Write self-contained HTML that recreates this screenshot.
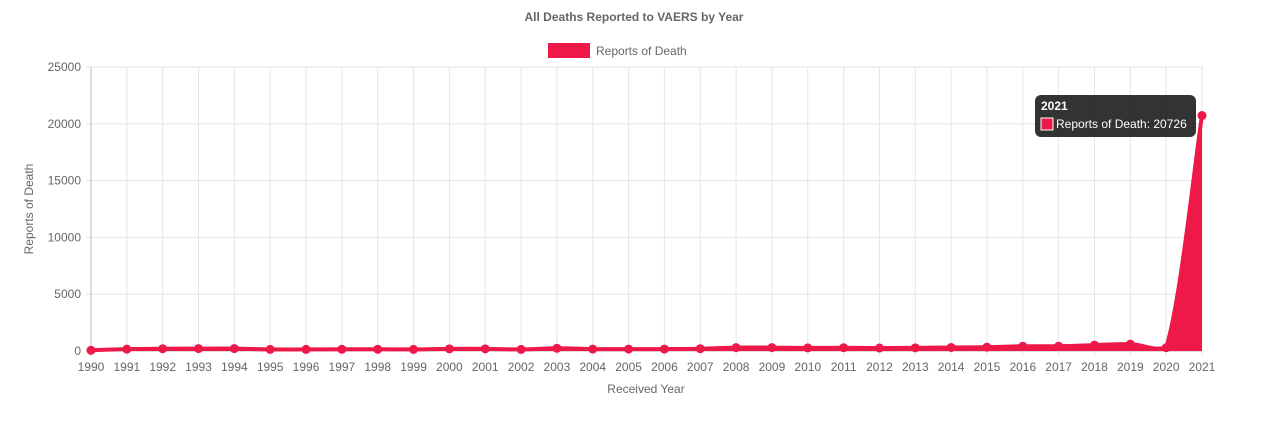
<!DOCTYPE html>
<html><head><meta charset="utf-8"><style>
body{margin:0;background:#fff;font-family:"Liberation Sans",Arial,sans-serif;}
svg text{font-family:"Liberation Sans",Arial,sans-serif;fill:#666;}
</style></head><body>
<svg id="chart" width="1269" height="420">
<text x="634" y="21" text-anchor="middle" font-size="12" font-weight="bold">All Deaths Reported to VAERS by Year</text>
<g>
<rect x="548" y="43" width="42" height="15" fill="#ee1849"/>
<text x="596" y="55" font-size="12">Reports of Death</text>
</g>
<g id="grid"></g><g id="series"></g>
<text transform="translate(33,209) rotate(-90)" text-anchor="middle" font-size="12">Reports of Death</text>
<text x="646" y="393" text-anchor="middle" font-size="12">Received Year</text>
<g>
<rect x="1035" y="95" width="161" height="42" rx="6" fill="rgba(0,0,0,0.8)"/>
<text x="1041" y="110" font-size="12" font-weight="bold" style="fill:#fff">2021</text>
<rect x="1041" y="118" width="12" height="12" fill="#ee1849" stroke="#fff" stroke-width="1"/>
<text x="1056" y="128" font-size="12" style="fill:#fff">Reports of Death: 20726</text>
</g>
</svg>
<script>
const years=[1990,1991,1992,1993,1994,1995,1996,1997,1998,1999,2000,2001,2002,2003,2004,2005,2006,2007,2008,2009,2010,2011,2012,2013,2014,2015,2016,2017,2018,2019,2020,2021];
const deaths=[65,160,200,210,210,140,140,150,150,140,190,190,140,240,170,170,170,200,300,300,270,290,260,280,310,340,420,420,520,600,290,20726];
const yTicks=[0,5000,10000,15000,20000,25000];
const X0=91,X1=1202,Y0=351,Y1=67,YMAX=25000;
const xs=i=>X0+(X1-X0)*i/(years.length-1);
const ys=v=>Y0-(Y0-Y1)*v/YMAX;
const NS="http://www.w3.org/2000/svg";
const grid=document.getElementById('grid'),ser=document.getElementById('series');
function mk(tag,attrs,parent){const e=document.createElementNS(NS,tag);for(const k in attrs)e.setAttribute(k,attrs[k]);parent.appendChild(e);return e;}
yTicks.forEach(t=>{const y=ys(t);
const l=mk('line',{x1:X0-5,x2:X1,y1:y,y2:y,stroke:t===0?'#bbb':'#e6e6e6'},grid);


const tx=mk('text',{x:X0-10,y:y+4,'text-anchor':'end','font-size':12},grid);tx.textContent=t;

});
years.forEach((yr,i)=>{const x=xs(i);
const l=mk('line',{x1:x,x2:x,y1:Y1,y2:Y0+5,stroke:i===0?'#bbb':'#e6e6e6'},grid);


const tx=mk('text',{x:x,y:Y0+20,'text-anchor':'middle','font-size':12},grid);tx.textContent=yr;

});
const P=deaths.map((v,i)=>[xs(i),ys(v)]);
let d=`M${P[0][0]},${P[0][1]}`;
for(let i=0;i<P.length-1;i++){const p0=P[Math.max(0,i-1)],p1=P[i],p2=P[i+1],p3=P[Math.min(P.length-1,i+2)];const t=0.2;
let c1y=p1[1]+(p2[1]-p0[1])*t,c2y=p2[1]-(p3[1]-p1[1])*t;
c1y=Math.min(Y0,c1y);c2y=Math.min(Y0,c2y);
d+=` C${p1[0]+(p2[0]-p0[0])*t},${c1y} ${p2[0]-(p3[0]-p1[0])*t},${c2y} ${p2[0]},${p2[1]}`;}
const area=mk('path',{d:d+` L${P[P.length-1][0]},${Y0} L${P[0][0]},${Y0} Z`,fill:'#ee1849'},ser);


const line=mk('path',{d:d,fill:'none',stroke:'#ee1849','stroke-width':4},ser);


P.forEach((p,i)=>{const c=mk('circle',{cx:p[0],cy:p[1],r:4.5,fill:'#ee1849'},ser);

});
</script>
</body></html>
